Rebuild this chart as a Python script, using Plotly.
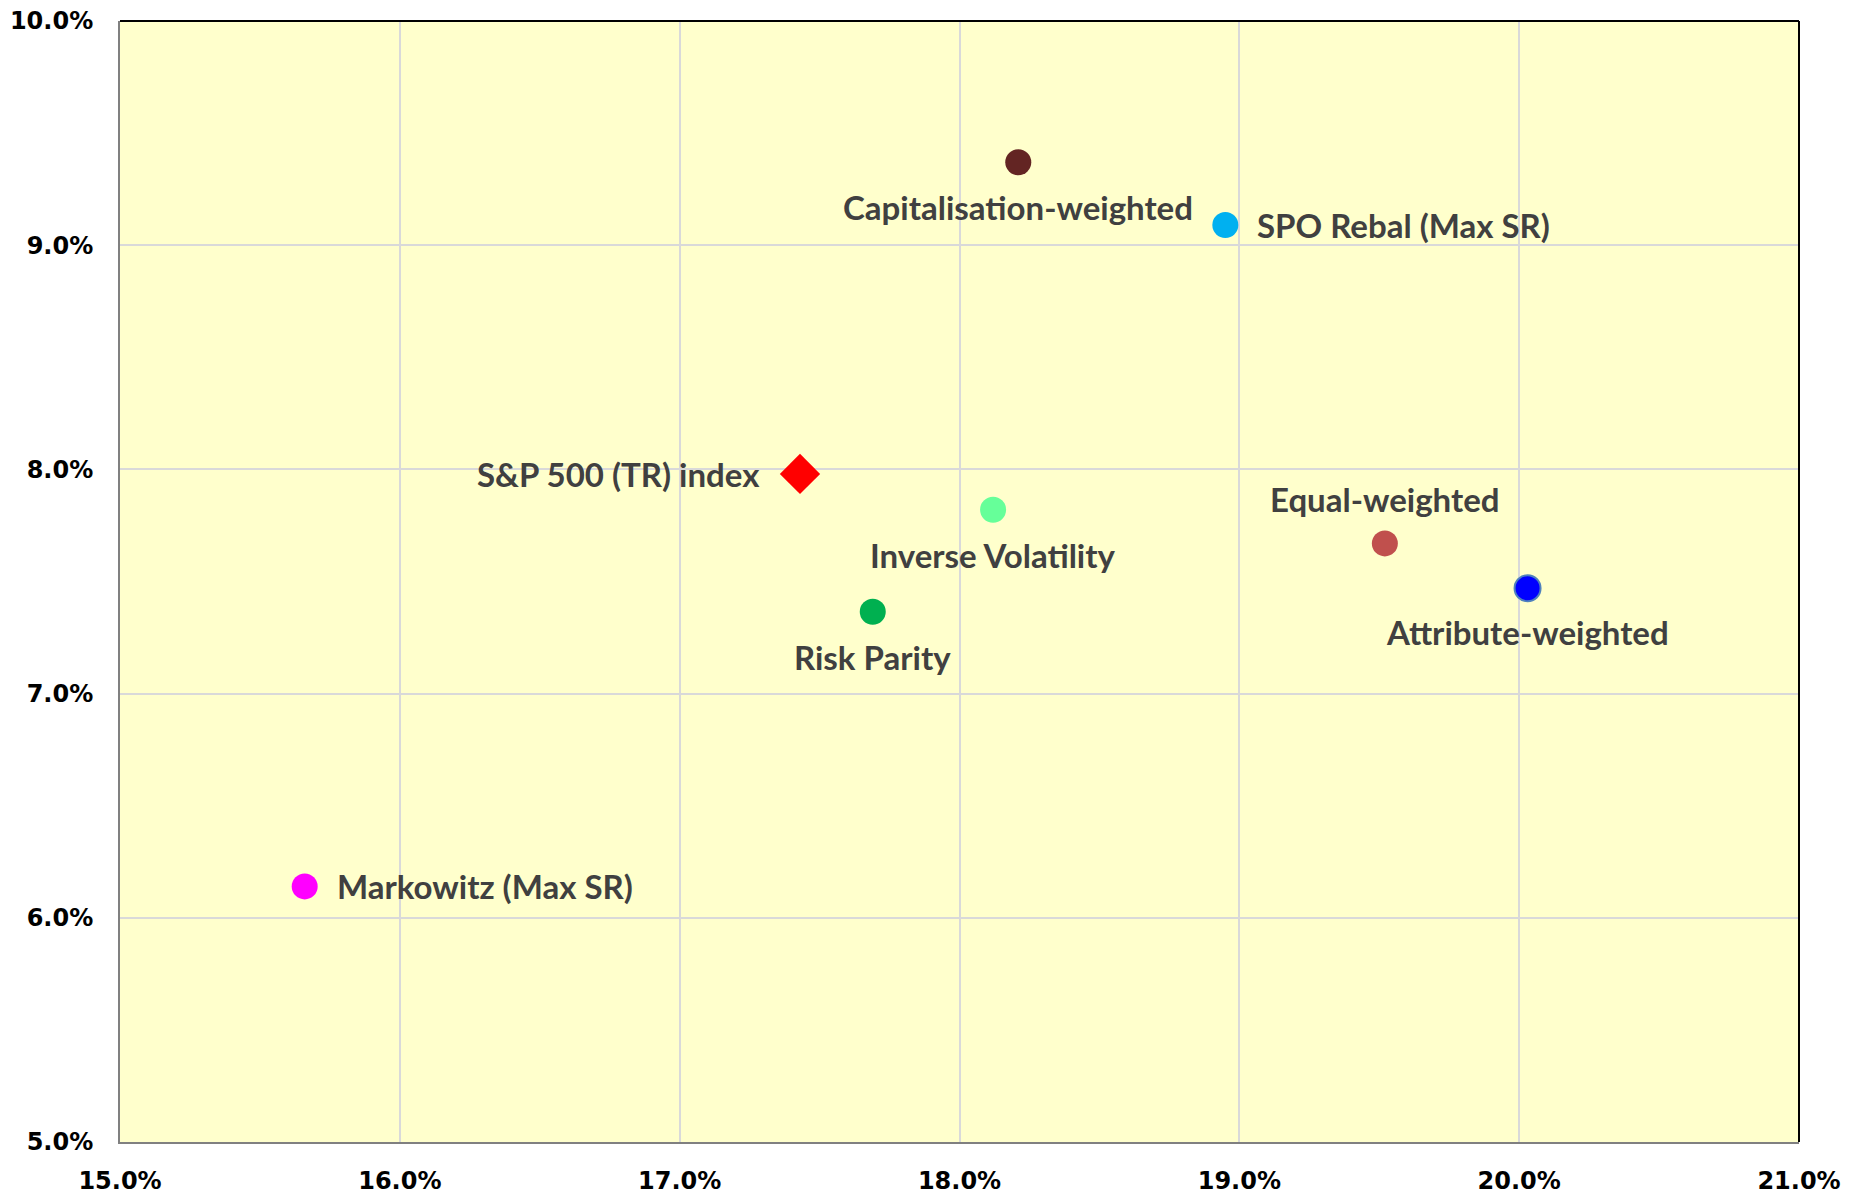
import plotly.graph_objects as go

# Data (risk = x, return = y, in %)
names = ["Capitalisation-weighted", "SPO Rebal (Max SR)", "S&P 500 (TR) index",
         "Inverse Volatility", "Risk Parity", "Equal-weighted",
         "Attribute-weighted", "Markowitz (Max SR)"]
risk = [18.21, 18.95, 17.43, 18.12, 17.69, 19.52, 20.03, 15.66]
ret = [9.37, 9.09, 7.98, 7.82, 7.365, 7.67, 7.47, 6.14]
colors = ["#632523", "#00B0F0", "#FF0000", "#66FF99", "#00B050", "#C0504D", "#0000FF", "#FF00FF"]
symbols = ["circle", "circle", "diamond", "circle", "circle", "circle", "circle", "circle"]
x_ticks = [15, 16, 17, 18, 19, 20, 21]
x_tick_labels = ["15.0%", "16.0%", "17.0%", "18.0%", "19.0%", "20.0%", "21.0%"]
y_ticks = [5, 6, 7, 8, 9, 10]
y_tick_labels = ["5.0%", "6.0%", "7.0%", "8.0%", "9.0%", "10.0%"]

# label placement (style)
lab_pos = {
    "Capitalisation-weighted": ("center", 0, -45),
    "SPO Rebal (Max SR)": ("left", 30, 0),
    "S&P 500 (TR) index": ("right", -38, 0),
    "Inverse Volatility": ("center", 0, -45),
    "Risk Parity": ("center", 0, -45),
    "Equal-weighted": ("center", 0, 44),
    "Attribute-weighted": ("center", 0, -44),
    "Markowitz (Max SR)": ("left", 30, 0),
}

fig = go.Figure()
for n, xv, yv, c, s in zip(names, risk, ret, colors, symbols):
    size = 31 if s == "diamond" else 26
    line = dict(width=2, color="#4F81BD") if n == "Attribute-weighted" else dict(width=0)
    fig.add_trace(go.Scatter(x=[xv], y=[yv], mode="markers", name=n,
                             marker=dict(color=c, symbol=s, size=size, line=line),
                             showlegend=False))
    xa, xs, ys = lab_pos[n]
    fig.add_annotation(x=xv, y=yv, text=n, showarrow=False, xanchor=xa, yanchor="middle",
                       xshift=xs, yshift=ys,
                       font=dict(family="Lato", size=33, color="#404040", weight="bold"))

tickfont = dict(family="DejaVu Sans", size=24, color="black", weight="bold")
fig.update_layout(
    width=1864, height=1193,
    margin=dict(l=112, r=73, t=13, b=59),
    paper_bgcolor="white", plot_bgcolor="#FFFFCC",
    xaxis=dict(range=[15, 21], tickvals=x_ticks, ticktext=x_tick_labels, automargin=False,
               showgrid=True, gridcolor="#D9D9D9", gridwidth=2, zeroline=False,
               showline=True, linecolor="#808080", linewidth=2, ticklabeloverflow="allow",
               ticks="outside", ticklen=16, tickcolor="rgba(0,0,0,0)", tickfont=tickfont),
    yaxis=dict(range=[5, 10], tickvals=y_ticks, ticktext=y_tick_labels, automargin=False,
               showgrid=True, gridcolor="#D9D9D9", gridwidth=2, zeroline=False,
               showline=True, linecolor="#808080", linewidth=2, ticklabeloverflow="allow",
               ticks="outside", ticklen=20, tickcolor="rgba(0,0,0,0)", tickfont=tickfont),
)
# black top and right border
fig.add_shape(type="line", xref="x domain", yref="y domain", x0=0, x1=1, y0=1, y1=1,
              line=dict(color="black", width=2))
fig.add_shape(type="line", xref="x domain", yref="y domain", x0=1, x1=1, y0=0, y1=1,
              line=dict(color="black", width=2))

fig.write_html("out.html")
